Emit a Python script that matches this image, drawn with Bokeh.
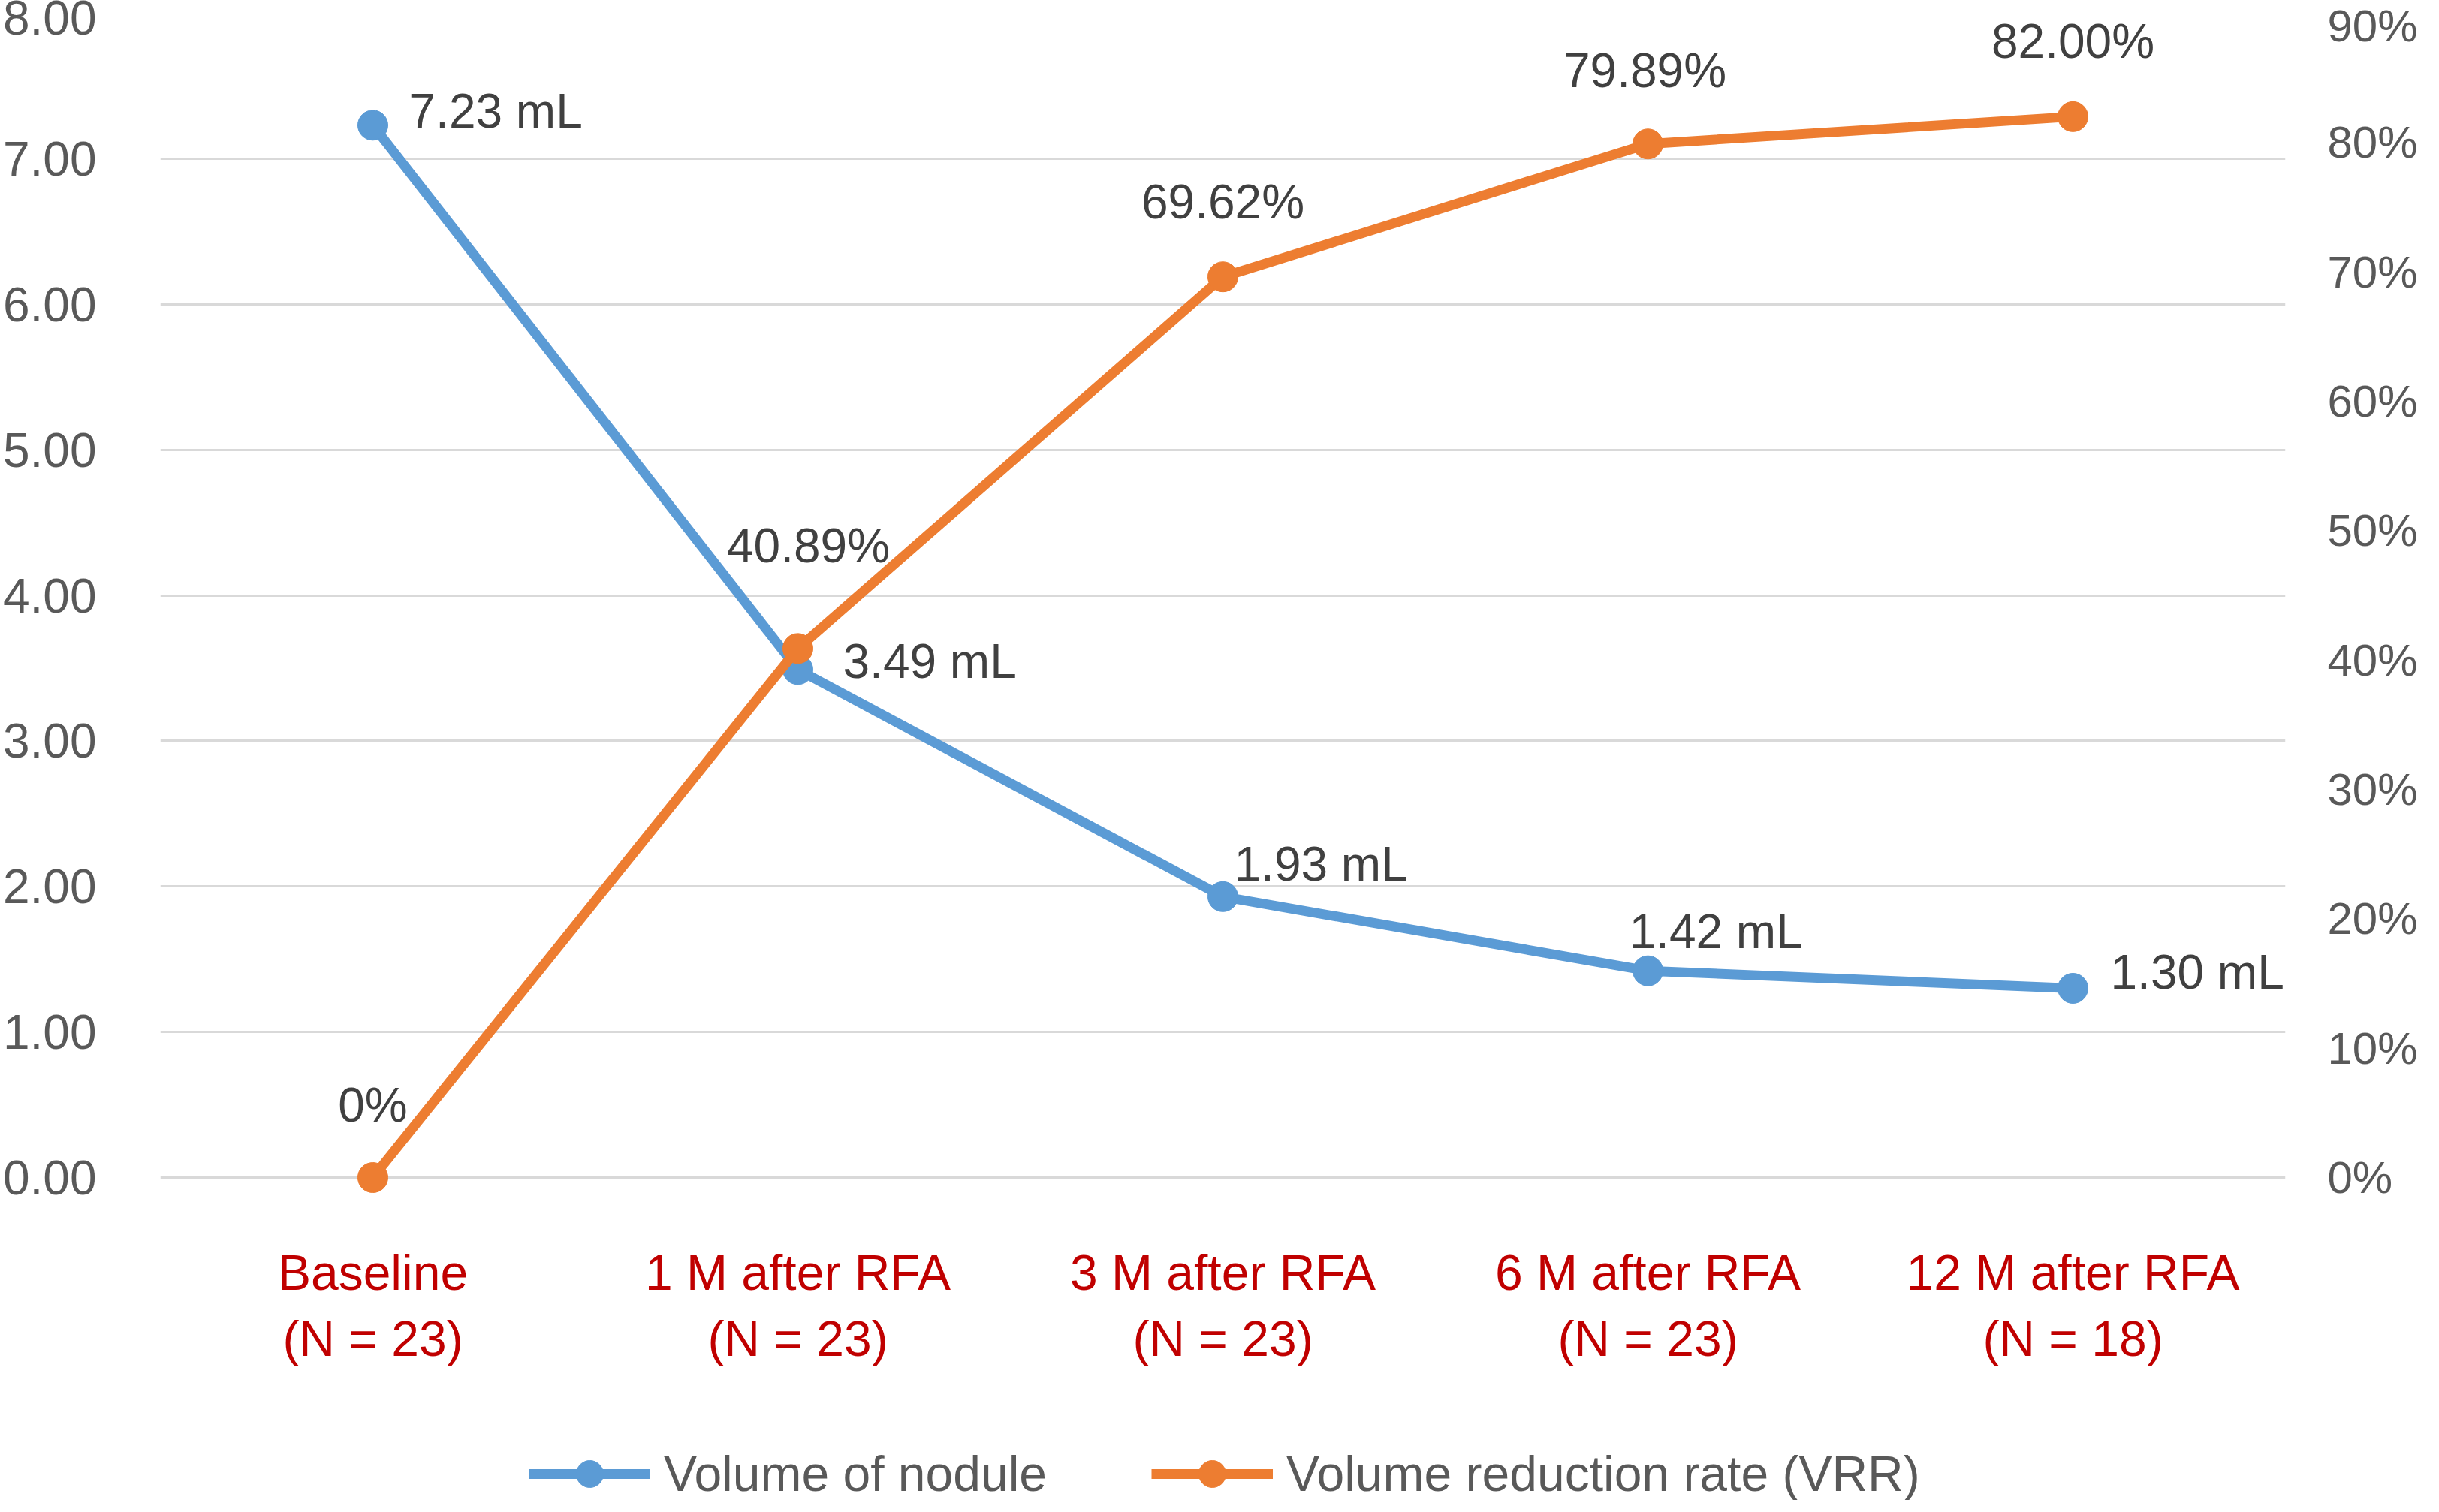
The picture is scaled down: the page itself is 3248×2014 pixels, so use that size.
from bokeh.plotting import figure
from bokeh.models import (Range1d, LinearAxis, FixedTicker, PrintfTickFormatter,
                          Legend, LegendItem)
from bokeh.core.properties import value
from bokeh.embed import file_html
from bokeh.resources import INLINE

# ---------------- data ----------------
categories = ["Baseline", "1 M after RFA", "3 M after RFA", "6 M after RFA", "12 M after RFA"]
sample_sizes = [23, 23, 23, 23, 18]
volume_ml = [7.23, 3.49, 1.93, 1.42, 1.30]
vrr_pct = [0.0, 40.89, 69.62, 79.89, 82.00]
left_ticks = [0, 1, 2, 3, 4, 5, 6, 7, 8]
right_ticks = [0, 10, 20, 30, 40, 50, 60, 70, 80, 90]
left_max = 8
right_max = 90

# ---------------- styling / layout ----------------
FONT_NAME = "Liberation Sans"
FONT = value(FONT_NAME)
BLUE = "#5B9BD5"
ORANGE = "#ED7D31"
AXIS_TXT = "#595959"
LABEL_TXT = "#404040"
CAT_TXT = "#C00000"
FS = "64px"

W, H = 3232, 1998
TOP = 17            # space above the 8.00 gridline
PLOT_H = 1551       # pixel height of the 0..8 value band
BELOW = H - TOP - PLOT_H   # room under the 0 line for category labels + legend
ext = BELOW / PLOT_H       # extension of the value ranges below zero (fraction)

xpos = [i + 0.5 for i in range(len(categories))]
n_labels = [f"(N = {n})" for n in sample_sizes]

vol_labels = [f"{v:.2f} mL" for v in volume_ml]
vrr_labels = ["0%" if v == 0 else f"{v:.2f}%" for v in vrr_pct]
vol_dx = [48, 60, 15, -25, 50]
vol_dy = [-19, -11, -43, -52, -21]
vrr_dx = [0, 14, 0, -4, 0]
vrr_dy = [-97, -137, -100, -98, -100]

p = figure(width=W, height=H, output_backend="svg", toolbar_location=None,
           x_range=Range1d(0, len(categories)),
           y_range=Range1d(-left_max * ext, left_max),
           x_axis_location=None,
           min_border_left=205, min_border_right=189, min_border_top=TOP,
           min_border_bottom=0)
p.outline_line_color = None
p.background_fill_color = "white"
p.border_fill_color = "white"

p.extra_y_ranges = {"pct": Range1d(-right_max * ext, right_max)}

# left axis
ya = p.yaxis[0]
ya.ticker = FixedTicker(ticks=left_ticks)
ya.formatter = PrintfTickFormatter(format="%.2f")
ya.axis_line_color = None
ya.major_tick_line_color = None
ya.minor_tick_line_color = None
ya.major_label_standoff = 79
ya.major_label_text_font = FONT_NAME
ya.major_label_text_font_size = FS
ya.major_label_text_color = AXIS_TXT

# right axis
ra = LinearAxis(y_range_name="pct", ticker=FixedTicker(ticks=right_ticks),
                formatter=PrintfTickFormatter(format="%d%%"))
ra.axis_line_color = None
ra.major_tick_line_color = None
ra.minor_tick_line_color = None
ra.major_label_standoff = 50
ra.major_label_text_font = FONT_NAME
ra.major_label_text_font_size = "60px"
ra.major_label_text_color = AXIS_TXT
p.add_layout(ra, "right")

# grid
p.xgrid.visible = False
p.ygrid.ticker = FixedTicker(ticks=left_ticks)
p.ygrid.grid_line_color = "#D9D9D9"
p.ygrid.grid_line_width = 3

# category labels (two lines) under the zero line
zeros = [0] * len(categories)
p.text(x=xpos, y=zeros, text=categories, y_offset=126,
       text_align="center", text_baseline="middle", text_font=FONT,
       text_font_size="66px", text_color=CAT_TXT)
p.text(x=xpos, y=zeros, text=n_labels, y_offset=214,
       text_align="center", text_baseline="middle", text_font=FONT,
       text_font_size="66px", text_color=CAT_TXT)

# series
bl = p.line(xpos, volume_ml, line_color=BLUE, line_width=13)
bs = p.scatter(xpos, volume_ml, size=40, fill_color=BLUE, line_color=BLUE)
ol = p.line(xpos, vrr_pct, line_color=ORANGE, line_width=13, y_range_name="pct")
os_ = p.scatter(xpos, vrr_pct, size=40, fill_color=ORANGE, line_color=ORANGE,
                y_range_name="pct")

p.text(x=xpos, y=volume_ml, text=vol_labels, x_offset=vol_dx, y_offset=vol_dy,
       text_align="left", text_baseline="middle", text_font=FONT,
       text_font_size=FS, text_color=LABEL_TXT)
p.text(x=xpos, y=vrr_pct, text=vrr_labels, x_offset=vrr_dx, y_offset=vrr_dy,
       text_align="center", text_baseline="middle", text_font=FONT,
       text_font_size=FS, text_color=LABEL_TXT, y_range_name="pct")

legend = Legend(items=[LegendItem(label="Volume of nodule", renderers=[bl, bs]),
                       LegendItem(label="Volume reduction rate (VRR)", renderers=[ol, os_])],
                location=(491, -10), orientation="horizontal",
                glyph_width=162, glyph_height=90, label_height=90,
                padding=0, margin=0, spacing=139, label_standoff=18,
                border_line_color=None, background_fill_alpha=0)
legend.label_text_font = FONT_NAME
legend.label_text_font_size = "66px"
legend.label_text_color = AXIS_TXT
p.add_layout(legend)

open("out.html", "w").write(file_html(p, INLINE))
